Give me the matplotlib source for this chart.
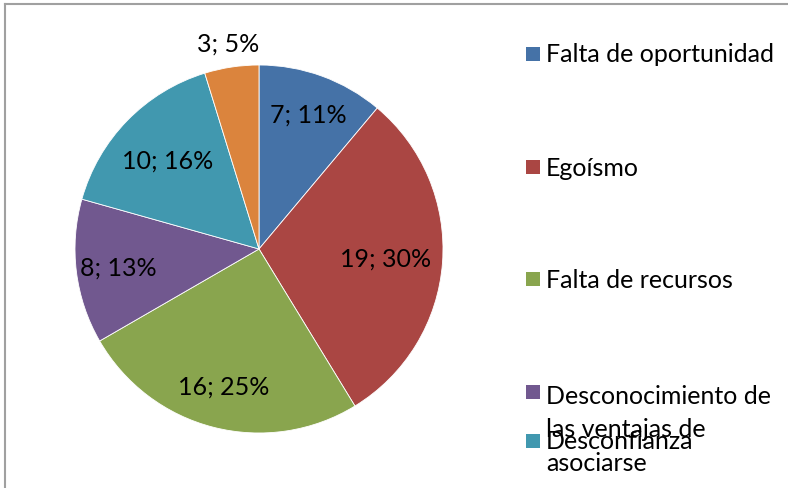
import numpy as np
import matplotlib.pyplot as plt
from matplotlib.lines import Line2D
from matplotlib.patches import Rectangle

# Data
categories = ["Falta de oportunidad", "Egoísmo", "Falta de recursos",
              "Desconocimiento de\nlas ventajas de\nasociarse", "Desconfianza", "Otros"]
values = [7, 19, 16, 8, 10, 3]
colors = ["#4572A7", "#AA4643", "#89A54E", "#71588F", "#4198AF", "#DB843D"]

W, H = 788, 489
plt.rcParams['font.family'] = ['Lato', 'DejaVu Sans']
fs = 18

fig = plt.figure(figsize=(W / 100, H / 100), dpi=100)

# pie axes: center (259, 250) px, radius 184 px
cx, cy, r = 259, 250, 184
ax = fig.add_axes([(cx - r) / W, (H - cy - r) / H, 2 * r / W, 2 * r / H])
wedges, _ = ax.pie(values, colors=colors, startangle=90, counterclock=False,
                   radius=1, wedgeprops=dict(linewidth=0.6, edgecolor='white'))
ax.set_xlim(-1, 1)
ax.set_ylim(-1, 1)
ax.axis('off')

# data labels
total = sum(values)
label_dist = [0.78, 0.69, 0.77, 0.77, 0.69, 1.13]
cum = 0
for v, d in zip(values, label_dist):
    mid = 90 - (cum + v / 2) / total * 360
    cum += v
    pct = round(v / total * 100)
    ax.text(d * np.cos(np.radians(mid)), d * np.sin(np.radians(mid)),
            f"{v}; {pct}%", ha='center', va='center', fontsize=fs, clip_on=False)

# legend drawn by hand (Excel layout overflows the chart area)
leg_y = [55, 168, 280, 393, 442, 555]
for name, c, y in zip(categories, colors, leg_y):
    fig.patches.append(Rectangle((526 / W, 1 - (y + 7) / H), 14 / W, 14 / H,
                                 transform=fig.transFigure, facecolor=c, edgecolor='none'))
    if "\n" in name:
        fig.text(546 / W, 1 - (y - 8) / H, name, ha='left', va='top',
                 fontsize=fs, linespacing=1.55)
    else:
        fig.text(546 / W, 1 - y / H, name, ha='left', va='center', fontsize=fs)

# chart border
fig.lines.append(Line2D([5 / W, 5 / W], [0, 1 - 5 / H], transform=fig.transFigure,
                        color='#A0A0A0', linewidth=1.5))
fig.lines.append(Line2D([5 / W, 1], [1 - 5 / H, 1 - 5 / H], transform=fig.transFigure,
                        color='#A0A0A0', linewidth=1.5))

fig.savefig("out.png", dpi=100)
